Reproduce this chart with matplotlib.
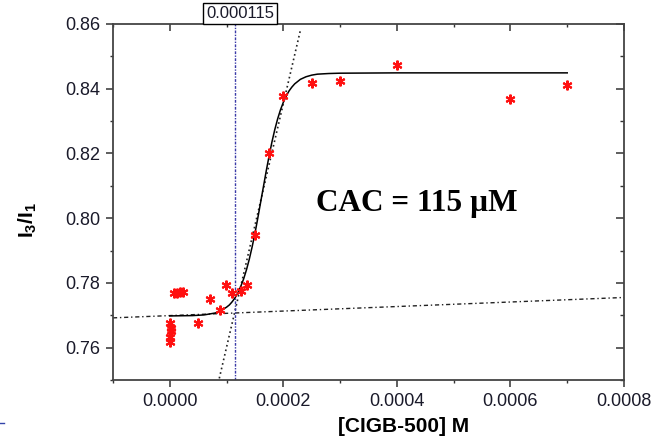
import matplotlib
matplotlib.use("Agg")
import matplotlib.pyplot as plt
from matplotlib.lines import Line2D
from matplotlib.ticker import MultipleLocator

plt.rcParams["font.family"] = ["Liberation Sans", "DejaVu Sans"]
plt.rcParams["mathtext.fontset"] = "custom"
plt.rcParams["mathtext.rm"] = "Liberation Sans"
plt.rcParams["mathtext.bf"] = "Liberation Sans:bold"

# measured points (concentration in M, I3/I1 ratio)
conc = [0.0, 3e-6, 2e-6, 0.0, 1e-6,
        7.4e-6, 1.27e-5, 1.8e-5, 2.3e-5,
        5.0e-5, 7.1e-5, 8.8e-5, 9.9e-5, 1.104e-4, 1.248e-4, 1.365e-4,
        1.50e-4, 1.752e-4, 1.99e-4, 2.50e-4, 3.00e-4, 4.00e-4, 6.00e-4, 7.00e-4]
ratio = [0.7676, 0.7661, 0.7650, 0.7634, 0.7616,
         0.7768, 0.7770, 0.7771, 0.7773,
         0.7676, 0.7750, 0.7715, 0.7792, 0.7768, 0.7774, 0.7792,
         0.7949, 0.8202, 0.8378, 0.8418, 0.8424, 0.8473, 0.8368, 0.8411]

# sigmoidal fit curve
fit_x = [0.0, 0.4e-4, 0.6e-4, 0.7e-4, 0.8e-4, 0.9e-4, 1.0e-4, 1.05e-4, 1.1e-4,
         1.15e-4, 1.2e-4, 1.25e-4, 1.3e-4, 1.35e-4, 1.4e-4, 1.45e-4, 1.5e-4,
         1.55e-4, 1.6e-4, 1.65e-4, 1.7e-4, 1.75e-4, 1.8e-4, 1.85e-4, 1.9e-4,
         1.95e-4, 2.0e-4, 2.05e-4, 2.1e-4, 2.15e-4, 2.2e-4, 2.3e-4, 2.4e-4,
         2.5e-4, 2.6e-4, 2.7e-4, 2.8e-4, 3.0e-4, 4.0e-4, 5.0e-4, 7.0e-4]
fit_y = [0.7698, 0.7699, 0.7701, 0.7704, 0.7707, 0.7714, 0.7725, 0.7732, 0.7742,
         0.7754, 0.7770, 0.7789, 0.7812, 0.7840, 0.7873, 0.7911, 0.7953,
         0.8000, 0.8049, 0.8098, 0.8147, 0.8193, 0.8236, 0.8274, 0.8307,
         0.8335, 0.8358, 0.8377, 0.8393, 0.8405, 0.8415, 0.8429, 0.8437,
         0.8442, 0.8445, 0.8446, 0.8447, 0.8448, 0.8449, 0.8449, 0.8449]

# tangent lines and CAC marker
base_x = [-0.0001, 0.0008]
base_y = [0.7692, 0.7755]
steep_x = [8.72e-5, 2.305e-4]
steep_y = [0.7505, 0.8584]
cac = 0.000115

fig = plt.figure(figsize=(6.53, 4.41), dpi=100)
ax = fig.add_axes([113 / 653, 61 / 441, 511 / 653, 356 / 441])

ax.plot(base_x, base_y, color="#222222", lw=1.0, ls=(0, (3, 2, 1, 2)))
ax.plot(steep_x, steep_y, color="#222222", lw=1.2, ls=(0, (1, 1.8)))
ax.axvline(cac, color="#3a3aa8", lw=1.0, ls=(0, (2, 1, 1, 1)))
ax.plot(fit_x, fit_y, color="black", lw=1.1)
ax.plot(conc, ratio, ls="none", marker=(6, 2, 0), ms=7, mew=1.5,
        color="#ff1010")

ax.set_xlim(-0.0001, 0.0008)
ax.set_ylim(0.75, 0.86)
ax.xaxis.set_minor_locator(MultipleLocator(0.0001))
ax.yaxis.set_minor_locator(MultipleLocator(0.01))
ax.set_xticks([0.0, 0.0002, 0.0004, 0.0006, 0.0008])
ax.set_xticklabels(["0.0000", "0.0002", "0.0004", "0.0006", "0.0008"])
ax.set_yticks([0.76, 0.78, 0.80, 0.82, 0.84, 0.86])
ax.set_yticklabels(["0.76", "0.78", "0.80", "0.82", "0.84", "0.86"])

for sp in ax.spines.values():
    sp.set_linewidth(1.3)
    sp.set_color("#444444")
ax.tick_params(which="major", direction="out", length=5, width=1.1,
               labelsize=13, pad=4, color="#333333", labelcolor="#1a1a2a")
ax.tick_params(which="minor", direction="out", length=2.5, width=1.0,
               color="#333333")

# mirrored ticks on top and right, pointing inward
top = ax.secondary_xaxis("top")
top.set_xticks([0.0, 0.0002, 0.0004, 0.0006, 0.0008])
top.xaxis.set_minor_locator(MultipleLocator(0.0001))
top.tick_params(which="major", direction="in", length=5, width=1.1,
                labeltop=False, color="#333333")
top.tick_params(which="minor", direction="in", length=2.5, width=1.0,
                color="#333333")
top.spines["top"].set_visible(False)
right = ax.secondary_yaxis("right")
right.set_yticks([0.76, 0.78, 0.80, 0.82, 0.84, 0.86])
right.yaxis.set_minor_locator(MultipleLocator(0.01))
right.tick_params(which="major", direction="in", length=6, width=1.1,
                  labelright=False, color="#333333")
right.tick_params(which="minor", direction="in", length=3, width=1.0,
                  color="#333333")
right.spines["right"].set_visible(False)

ax.text(0.000435, 0.8046, "CAC = 115 \u00b5M", family=["Liberation Serif"],
        weight="bold", fontsize=22.5, ha="center", va="center")

fig.text(240 / 653, 1 - 13 / 441, "0.000115", fontsize=12, ha="center",
         va="center", color="#1a1a2a",
         bbox=dict(boxstyle="square,pad=0.18", fc="white", ec="black", lw=1.0))

fig.text(28 / 653, 1 - 220 / 441, r"$\mathbf{I_3/I_1}$", fontsize=15,
         rotation=90, ha="center", va="center")
fig.text(404 / 653, 1 - 426 / 441, "[CIGB-500] M", fontsize=15,
         weight="bold", ha="center", va="center")

fig.add_artist(Line2D([0.0, 0.006], [1 - 423 / 441] * 2, color="#3344aa",
                      lw=1.0))

fig.savefig("out.png", dpi=100)
